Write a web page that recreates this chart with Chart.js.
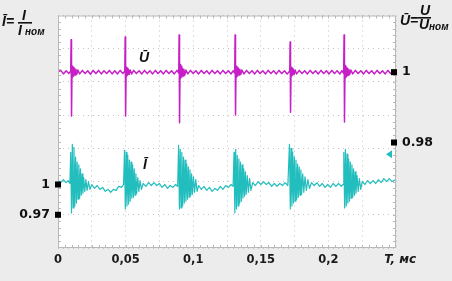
<!DOCTYPE html>
<html lang="ru">
<head>
<meta charset="UTF-8">
<title>Осциллограмма Ī и Ū</title>
<script src="https://cdn.jsdelivr.net/npm/chart.js"></script>
<style>
  html, body { margin: 0; padding: 0; background: #ececec; }
  #wrap { position: relative; width: 452px; height: 281px; }
</style>
</head>
<body>
<div id="wrap"><canvas id="osc" width="452" height="281"></canvas></div>
<script>
const uTimes = [
  0.0000, 0.0020, 0.0040, 0.0060, 0.0080, 0.0094, 0.0097, 0.0100, 0.0104, 0.0108,
  0.0112, 0.0116, 0.0121, 0.0126, 0.0132, 0.0139, 0.0147, 0.0160, 0.0180, 0.0200,
  0.0220, 0.0240, 0.0260, 0.0280, 0.0300, 0.0320, 0.0340, 0.0360, 0.0380, 0.0400,
  0.0420, 0.0440, 0.0460, 0.0480, 0.0494, 0.0497, 0.0500, 0.0504, 0.0508, 0.0512,
  0.0516, 0.0521, 0.0527, 0.0534, 0.0545, 0.0560, 0.0580, 0.0600, 0.0620, 0.0640,
  0.0660, 0.0680, 0.0700, 0.0720, 0.0740, 0.0760, 0.0780, 0.0800, 0.0820, 0.0840,
  0.0860, 0.0880, 0.0893, 0.0896, 0.0899, 0.0903, 0.0907, 0.0911, 0.0915, 0.0920,
  0.0925, 0.0931, 0.0938, 0.0946, 0.0960, 0.0980, 0.1000, 0.1020, 0.1040, 0.1060,
  0.1080, 0.1100, 0.1120, 0.1140, 0.1160, 0.1180, 0.1200, 0.1220, 0.1240, 0.1260,
  0.1280, 0.1296, 0.1307, 0.1310, 0.1313, 0.1317, 0.1321, 0.1325, 0.1329, 0.1334,
  0.1339, 0.1345, 0.1352, 0.1360, 0.1375, 0.1395, 0.1415, 0.1435, 0.1455, 0.1475,
  0.1495, 0.1515, 0.1535, 0.1555, 0.1575, 0.1595, 0.1615, 0.1635, 0.1655, 0.1675,
  0.1695, 0.1714, 0.1717, 0.1720, 0.1724, 0.1728, 0.1732, 0.1736, 0.1741, 0.1747,
  0.1754, 0.1765, 0.1785, 0.1805, 0.1825, 0.1845, 0.1865, 0.1885, 0.1905, 0.1925,
  0.1945, 0.1965, 0.1985, 0.2005, 0.2025, 0.2045, 0.2065, 0.2085, 0.2100, 0.2113,
  0.2116, 0.2119, 0.2123, 0.2127, 0.2131, 0.2135, 0.2140, 0.2145, 0.2151, 0.2158,
  0.2166, 0.2180, 0.2200, 0.2220, 0.2240, 0.2260, 0.2280, 0.2300, 0.2320, 0.2340,
  0.2360, 0.2380, 0.2400, 0.2420, 0.2440, 0.2460, 0.2480, 0.2500
];
const uValues = [
  1.0000, 1.0005, 0.9995, 1.0004, 0.9996, 1.0003, 1.0092, 0.9875, 1.0017, 0.9986,
  1.0014, 0.9989, 1.0011, 0.9992, 1.0008, 0.9994, 1.0006, 0.9995, 1.0005, 0.9996,
  1.0004, 0.9994, 1.0005, 0.9996, 1.0005, 0.9995, 1.0004, 0.9996, 1.0005, 0.9995,
  1.0004, 0.9995, 1.0005, 0.9996, 1.0003, 1.0100, 0.9875, 1.0014, 0.9989, 1.0011,
  0.9992, 1.0008, 0.9994, 1.0006, 0.9995, 1.0005, 0.9996, 1.0004, 0.9995, 1.0005,
  0.9996, 1.0004, 0.9995, 1.0005, 0.9996, 1.0004, 0.9995, 1.0005, 0.9996, 1.0004,
  0.9995, 1.0005, 0.9997, 1.0106, 0.9856, 1.0022, 0.9983, 1.0017, 0.9986, 1.0011,
  0.9989, 1.0008, 0.9992, 1.0006, 0.9995, 1.0005, 0.9996, 1.0004, 0.9995, 1.0005,
  0.9996, 1.0004, 0.9995, 1.0005, 0.9996, 1.0004, 0.9995, 1.0005, 0.9996, 1.0004,
  0.9995, 1.0004, 0.9997, 1.0106, 0.9878, 1.0017, 0.9986, 1.0014, 0.9989, 1.0011,
  0.9992, 1.0008, 0.9994, 1.0006, 0.9995, 1.0005, 0.9996, 1.0004, 0.9995, 1.0005,
  0.9996, 1.0004, 0.9995, 1.0005, 0.9996, 1.0004, 0.9995, 1.0005, 0.9996, 1.0004,
  0.9995, 1.0003, 1.0086, 0.9886, 1.0014, 0.9989, 1.0011, 0.9992, 1.0008, 0.9994,
  1.0006, 0.9995, 1.0005, 0.9996, 1.0004, 0.9995, 1.0005, 0.9996, 1.0004, 0.9995,
  1.0005, 0.9996, 1.0004, 0.9995, 1.0005, 0.9996, 1.0004, 0.9995, 1.0004, 0.9997,
  1.0106, 0.9858, 1.0019, 0.9984, 1.0014, 0.9988, 1.0011, 0.9991, 1.0008, 0.9994,
  1.0006, 0.9995, 1.0005, 0.9996, 1.0004, 0.9995, 1.0005, 0.9996, 1.0004, 0.9995,
  1.0005, 0.9996, 1.0004, 0.9995, 1.0005, 0.9996, 1.0004, 0.9997
];

// ток, о.е.
const iTimes = [
  0.0000, 0.0020, 0.0040, 0.0060, 0.0075, 0.0088,
  0.0094, 0.0100, 0.0106, 0.0112, 0.0118, 0.0124, 0.0130, 0.0136, 0.0142, 0.0148,
  0.0154, 0.0160, 0.0166, 0.0172, 0.0178, 0.0184, 0.0190, 0.0198, 0.0206, 0.0215,
  0.0225, 0.0236,
  0.0250, 0.0270, 0.0290, 0.0310, 0.0330, 0.0350, 0.0370, 0.0390, 0.0410, 0.0430,
  0.0450, 0.0470, 0.0485,
  0.0492, 0.0498, 0.0504, 0.0510, 0.0516, 0.0522, 0.0528, 0.0534, 0.0540, 0.0546,
  0.0552, 0.0558, 0.0564, 0.0570, 0.0576, 0.0582, 0.0590, 0.0598, 0.0607, 0.0617,
  0.0630, 0.0650, 0.0670, 0.0690, 0.0710, 0.0730, 0.0750, 0.0770, 0.0790, 0.0810,
  0.0830, 0.0850, 0.0870, 0.0885,
  0.0892, 0.0898, 0.0904, 0.0910, 0.0916, 0.0922, 0.0928, 0.0934, 0.0940, 0.0946,
  0.0952, 0.0958, 0.0964, 0.0970, 0.0976, 0.0982, 0.0988, 0.0994, 0.1002, 0.1010,
  0.1019, 0.1029,
  0.1040, 0.1060, 0.1080, 0.1100, 0.1120, 0.1140, 0.1160, 0.1180, 0.1200, 0.1220,
  0.1240, 0.1260, 0.1280, 0.1295,
  0.1302, 0.1308, 0.1314, 0.1320, 0.1326, 0.1332, 0.1338, 0.1344, 0.1350, 0.1356,
  0.1362, 0.1368, 0.1374, 0.1380, 0.1386, 0.1392, 0.1400, 0.1408, 0.1417, 0.1427,
  0.1440, 0.1460, 0.1480, 0.1500, 0.1520, 0.1540, 0.1560, 0.1580, 0.1600, 0.1620,
  0.1640, 0.1660, 0.1680, 0.1700,
  0.1712, 0.1718, 0.1724, 0.1730, 0.1736, 0.1742, 0.1748, 0.1754, 0.1760, 0.1766,
  0.1772, 0.1778, 0.1784, 0.1790, 0.1796, 0.1802, 0.1810, 0.1818, 0.1827, 0.1837,
  0.1848, 0.1860,
  0.1875, 0.1895, 0.1915, 0.1935, 0.1955, 0.1975, 0.1995, 0.2015, 0.2035, 0.2055,
  0.2075, 0.2095, 0.2108,
  0.2114, 0.2120, 0.2126, 0.2132, 0.2138, 0.2144, 0.2150, 0.2156, 0.2162, 0.2168,
  0.2174, 0.2180, 0.2186, 0.2192, 0.2198, 0.2204, 0.2212, 0.2220, 0.2229, 0.2239,
  0.2250, 0.2270, 0.2290, 0.2310, 0.2330, 0.2350, 0.2370, 0.2390, 0.2410, 0.2430,
  0.2450, 0.2470, 0.2500
];
const iValues = [
  1.0039, 1.0019, 1.0048, 1.0019, 1.0039, 1.0010,
  1.0319, 0.9719, 1.0397, 0.9768, 1.0368, 0.9787, 1.0271, 0.9816, 1.0223, 0.9855,
  1.0194, 0.9864, 1.0155, 0.9894, 1.0106, 0.9913, 1.0068, 0.9932, 1.0048, 0.9942,
  1.0029, 0.9952,
  1.0000, 0.9961, 0.9990, 0.9952, 0.9971, 0.9932, 0.9952, 0.9923, 0.9952, 0.9942,
  0.9981, 0.9971, 1.0000,
  1.0339, 0.9758, 1.0319, 0.9787, 1.0290, 0.9806, 1.0242, 0.9835, 1.0223, 0.9864,
  1.0194, 0.9874, 1.0155, 0.9894, 1.0106, 0.9913, 1.0068, 0.9932, 1.0039, 0.9952,
  1.0010, 0.9981, 1.0019, 0.9990, 1.0019, 0.9990, 1.0010, 0.9971, 1.0000, 0.9961,
  0.9990, 0.9971, 1.0000, 0.9981,
  1.0387, 0.9758, 1.0348, 0.9768, 1.0319, 0.9787, 1.0271, 0.9816, 1.0242, 0.9835,
  1.0203, 0.9855, 1.0174, 0.9874, 1.0145, 0.9894, 1.0106, 0.9903, 1.0077, 0.9923,
  1.0048, 0.9932,
  0.9990, 0.9952, 0.9981, 0.9942, 0.9971, 0.9932, 0.9961, 0.9942, 0.9981, 0.9952,
  0.9990, 0.9971, 1.0000, 0.9981,
  1.0319, 0.9719, 1.0348, 0.9758, 1.0290, 0.9787, 1.0252, 0.9816, 1.0223, 0.9835,
  1.0194, 0.9864, 1.0155, 0.9884, 1.0126, 0.9903, 1.0087, 0.9923, 1.0058, 0.9942,
  1.0019, 0.9990, 1.0029, 1.0000, 1.0029, 1.0000, 1.0019, 0.9981, 1.0010, 0.9981,
  1.0010, 0.9990, 1.0019, 0.9990,
  1.0397, 0.9758, 1.0358, 0.9787, 1.0319, 0.9816, 1.0271, 0.9835, 1.0242, 0.9855,
  1.0203, 0.9874, 1.0174, 0.9894, 1.0145, 0.9903, 1.0106, 0.9923, 1.0077, 0.9942,
  1.0048, 0.9961,
  1.0019, 0.9990, 1.0019, 0.9981, 1.0010, 0.9971, 1.0000, 0.9971, 1.0010, 0.9981,
  1.0010, 0.9981, 1.0000,
  1.0319, 0.9768, 1.0348, 0.9787, 1.0300, 0.9816, 1.0252, 0.9835, 1.0223, 0.9864,
  1.0194, 0.9874, 1.0155, 0.9894, 1.0126, 0.9913, 1.0087, 0.9932, 1.0058, 0.9952,
  1.0029, 1.0000, 1.0039, 1.0010, 1.0039, 1.0010, 1.0048, 1.0019, 1.0058, 1.0029,
  1.0058, 1.0029, 1.0048
];

// метки на осях
const iMarks = [0.97, 1];
const uMarks = [0.98, 1];
const iTrigger = 1.03;

const magenta = '#c61fc6';
const cyan = '#22bdbd';
const gridColor = '#c3c3c3';

function pairs(xs, ys) {
  return xs.map((x, k) => ({ x: x, y: ys[k] }));
}

const decor = {
  id: 'decor',
  beforeDraw(chart) {
    const { ctx, chartArea: a } = chart;
    ctx.save();
    ctx.fillStyle = '#ffffff';
    ctx.fillRect(a.left, a.top, a.right - a.left, a.bottom - a.top);
    ctx.restore();
  },
  afterDraw(chart) {
    const { ctx, chartArea: a, scales } = chart;
    ctx.save();
    // рамка и мелкие деления
    ctx.strokeStyle = '#b8b8b8';
    ctx.lineWidth = 1;
    ctx.strokeRect(a.left + 0.5, a.top + 0.5, a.right - a.left - 1, a.bottom - a.top - 1);
    ctx.beginPath();
    for (let k = 1; k < 50; k++) {
      const px = Math.round(scales.x.getPixelForValue(k * 0.005)) + 0.5;
      ctx.moveTo(px, a.bottom); ctx.lineTo(px, a.bottom - 3);
      ctx.moveTo(px, a.top); ctx.lineTo(px, a.top + 3);
    }
    for (let k = 1; k < 35; k++) {
      const py = Math.round(scales.g.getPixelForValue(k * 0.2)) + 0.5;
      ctx.moveTo(a.left, py); ctx.lineTo(a.left + 3, py);
      ctx.moveTo(a.right, py); ctx.lineTo(a.right - 3, py);
    }
    ctx.stroke();

    // чёрные квадратики меток
    ctx.fillStyle = '#000';
    iMarks.forEach(v => {
      const py = scales.yI.getPixelForValue(v);
      ctx.fillRect(a.left - 3, py - 3, 6, 6);
    });
    uMarks.forEach(v => {
      const py = scales.yU.getPixelForValue(v);
      ctx.fillRect(a.right - 5, py - 3, 6, 6);
    });

    // маркер уровня тока
    const ty = scales.yI.getPixelForValue(iTrigger);
    ctx.fillStyle = cyan;
    ctx.beginPath();
    ctx.moveTo(a.right - 10, ty);
    ctx.lineTo(a.right - 4, ty - 4);
    ctx.lineTo(a.right - 4, ty + 4);
    ctx.closePath();
    ctx.fill();

    // подписи кривых
    ctx.fillStyle = '#111';
    ctx.font = 'bold italic 14px "Liberation Sans"';
    ctx.fillText('Ū', scales.x.getPixelForValue(0.0600), scales.yU.getPixelForValue(1.0028));
    ctx.fillText('Ī', scales.x.getPixelForValue(0.0628), scales.yI.getPixelForValue(1.0150));

    // формулы
    ctx.font = 'bold italic 14px "Liberation Sans"';
    ctx.fillText('Ī=', 2, 26);
    ctx.fillText('I', 22, 20);
    ctx.fillRect(18, 22, 14, 1.6);
    ctx.fillText('I', 18, 35);
    ctx.font = 'bold italic 10px "Liberation Sans"';
    ctx.fillText('ном', 25, 35);

    ctx.font = 'bold italic 14px "Liberation Sans"';
    ctx.fillText('Ū=', 400, 25);
    ctx.fillText('U', 420, 15);
    ctx.fillRect(418, 17, 13, 1.6);
    ctx.fillText('U', 419, 29);
    ctx.font = 'bold italic 10px "Liberation Sans"';
    ctx.fillText('ном', 429, 30);
    ctx.restore();
  }
};

const xLabel = v => {
  if (Math.abs(v - 0.25) < 1e-9) return '  T, мс';
  const m = Math.round(v * 1000);
  if (m % 50 !== 0) return '';
  return String(m / 1000).replace('.', ',');
};

new Chart(document.getElementById('osc'), {
  type: 'line',
  data: {
    datasets: [
      { label: 'Ū', data: pairs(uTimes, uValues), yAxisID: 'yU',
        borderColor: magenta, borderWidth: 1.5 },
      { label: 'Ī', data: pairs(iTimes, iValues), yAxisID: 'yI',
        borderColor: cyan, borderWidth: 1.2 }
    ]
  },
  options: {
    responsive: false,
    animation: false,
    parsing: false,
    layout: { padding: { top: 10, left: 0, right: 0, bottom: 0 } },
    elements: {
      point: { radius: 0 },
      line: { tension: 0, borderJoinStyle: 'round', fill: false }
    },
    plugins: { legend: { display: false }, tooltip: { enabled: false } },
    scales: {
      x: {
        type: 'linear', min: 0, max: 0.25,
        afterFit: s => { s.height = 33; },
        ticks: {
          stepSize: 0.025, autoSkip: false, maxRotation: 0, padding: 5,
          color: '#1a1a1a',
          font: c => (c.tick && Math.abs(c.tick.value - 0.25) < 1e-9)
            ? { family: 'DejaVu Sans', size: 12, weight: 'bold', style: 'italic' }
            : { family: 'DejaVu Sans', size: 11.5, weight: 'bold' },
          callback: xLabel
        },
        grid: { color: gridColor, drawTicks: false },
        border: { display: false, dash: [1, 4] }
      },
      g: {
        type: 'linear', position: 'left', min: 0, max: 7,
        afterFit: s => { s.width = 0; },
        ticks: { display: false, stepSize: 1 },
        grid: { color: gridColor, drawTicks: false },
        border: { display: false, dash: [1, 4] }
      },
      yI: {
        type: 'linear', position: 'left', min: 0.93710, max: 1.16742,
        afterFit: s => { s.width = 58; },
        afterBuildTicks: s => { s.ticks = iMarks.map(v => ({ value: v })); },
        ticks: {
          padding: 8, color: '#111',
          font: { family: 'DejaVu Sans', size: 12.5, weight: 'bold' },
          callback: v => String(v)
        },
        grid: { display: false, drawTicks: false },
        border: { display: false }
      },
      yU: {
        type: 'linear', position: 'right', min: 0.95, max: 1.01611,
        afterFit: s => { s.width = 56; },
        afterBuildTicks: s => { s.ticks = uMarks.map(v => ({ value: v })); },
        ticks: {
          padding: 6, color: '#111',
          font: { family: 'DejaVu Sans', size: 12.5, weight: 'bold' },
          callback: v => String(v)
        },
        grid: { display: false, drawTicks: false },
        border: { display: false }
      }
    }
  },
  plugins: [decor]
});
</script>
</body>
</html>
